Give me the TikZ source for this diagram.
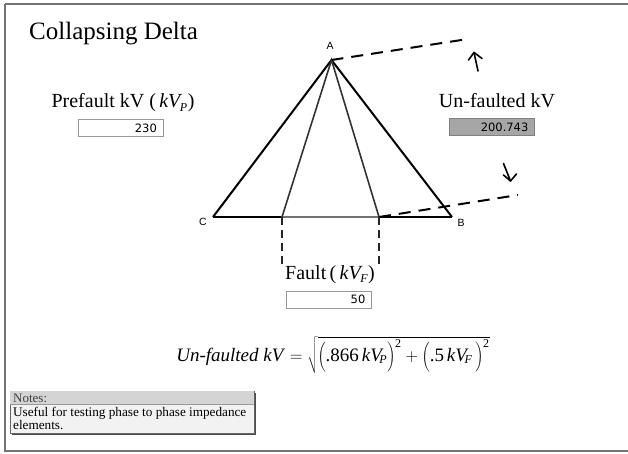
\documentclass[tikz,border=0pt]{standalone}
\usepackage{fontspec}
\setmainfont{Liberation Serif}
\newfontfamily\boxfont{DejaVu Sans}
\newfontfamily\labfont{Liberation Sans}
\newcommand{\mysub}[1]{\mbox{\fontsize{12}{12}\selectfont\itshape #1}}
\newcommand{\mysup}{\mbox{\fontsize{12}{12}\selectfont 2}}
\newcommand{\tallstrut}{\rule[-8pt]{0pt}{27pt}}
\begin{document}
\begin{tikzpicture}[x=1pt,y=-1pt,
  outer/.style={line width=2pt,black},
  inner/.style={line width=1.6pt,black!80},
  dashln/.style={line width=2pt,dash pattern=on 12pt off 8pt},
  vdash/.style={line width=1.4pt,dash pattern=on 8pt off 5pt,black!85},
  harrow/.style={line width=1.6pt,line cap=round,line join=round},
  vbox/.style={draw=black!40,line width=0.8pt,fill=white,minimum width=85pt,minimum height=17pt,inner sep=0pt},
  vtext/.style={font=\boxfont\fontsize{11.5}{12}\selectfont,anchor=east},
  lbl/.style={font=\labfont\fontsize{10.5}{11}\selectfont,inner sep=0pt},
  captxt/.style={font=\fontsize{20}{22}\selectfont,inner sep=0pt}
]
\useasboundingbox (0,0) rectangle (628,453);
\draw[black!55,line width=2pt] (5,4) -- (628,4);
\draw[black!55,line width=2pt] (5,4) -- (5,451) -- (628,451);
% title
\node[font=\fontsize{25}{28}\selectfont,anchor=west,inner sep=0pt] (title) at (29,34) {Collapsing Delta};
% triangle
\coordinate (A) at (331.5,60);
\coordinate (C) at (213,217);
\coordinate (B) at (452,217);
\coordinate (P) at (282,217);
\coordinate (Q) at (379,217);
\draw[outer] (C) -- (P);
\draw[outer] (Q) -- (B);
\draw[line width=1.6pt,black!55] (P) -- (Q);
\draw[outer,line join=miter] (C) -- (A) -- (B);
\draw[inner] (P) -- (A) -- (Q);
\node[lbl] (la) at (330,46) {A};
\node[lbl] (lc) at (203,222) {C};
\node[lbl] (lb) at (461,223) {B};
% dashed
\coordinate (A2) at (468,39);
\coordinate (Q2) at (518,195);
\draw[dashln] (A) -- (A2);
\draw[dashln] (Q) -- (Q2);
\coordinate (P3) at (282,266);
\coordinate (Q3) at (379,266);
\draw[vdash] (P) -- (P3);
\draw[vdash] (Q) -- (Q3);
% hand arrows
\coordinate (u1) at (478,71);
\coordinate (u2) at (474,52.5);
\draw[harrow] (u1) -- (u2);
\draw[harrow] (468.5,60) -- (u2) -- (482,58.5);
\coordinate (d1) at (503.5,163.5);
\coordinate (d2) at (510.5,181);
\draw[harrow] (d1) -- (d2);
\draw[harrow] (503.5,175) -- (d2) -- (516.5,174);
% prefault
\node[captxt] (pf) at (123,103) {Prefault kV (\,\textit{kV}$_{\!\mysub{P}}$)};
\node[vbox] (pfb) at (120.5,128) {};
\node[vtext] at ([xshift=-3pt]pfb.east) {230};
% unfaulted
\node[captxt] (uf) at (497,101) {Un-faulted kV};
\node[vbox,fill=black!35,draw=black!50] (ufb) at (492,127) {};
\node[vtext] at ([xshift=-3pt]ufb.east) {200.743};
% fault
\node[captxt] (ft) at (330,275) {Fault\,(\,\textit{kV}$_{\!\mysub{F}}$)};
\node[vbox] (ftb) at (329,299.5) {};
\node[vtext] at ([xshift=-3pt]ftb.east) {50};
% formula
\node[font=\fontsize{19}{21}\selectfont,inner sep=0pt] (eq) at (333,355)
  {\textit{Un-faulted kV} $=\sqrt{\left(\tallstrut\mbox{.866}\,\mbox{\itshape kV}_{\!\mysub{P}}\right)^{\mysup}+\left(\tallstrut\mbox{.5}\,\mbox{\itshape kV}_{\!\mysub{F}}\,\right)^{\mysup}}$};
% notes
\fill[black!70] (12,393) rectangle (256,435);
\draw[black!60,line width=0.8pt,fill=black!5] (10,391) rectangle (254,433);
\fill[black!17] (10.4,391.4) rectangle (253.6,404.5);
\draw[black!40,line width=0.6pt] (10.4,404.5) -- (253.6,404.5);
\node[font=\fontsize{13}{13}\selectfont,anchor=west,inner sep=0pt,text=black!75] (nh) at (13,398.5) {Notes:};
\node[font=\fontsize{13.2}{13.6}\selectfont,anchor=north west,inner sep=0pt,align=left] (nt) at (13,406.5)
  {Useful for testing phase to phase impedance\\elements.};
\end{tikzpicture}
\end{document}
